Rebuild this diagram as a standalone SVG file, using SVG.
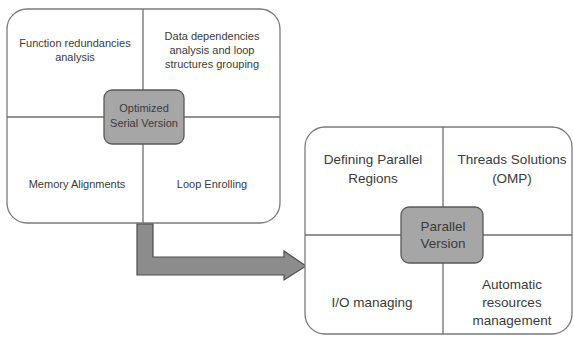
<svg xmlns="http://www.w3.org/2000/svg" width="574" height="340" viewBox="0 0 574 340">
<style>
.frame{fill:#ffffff;stroke:#7a7a7a;stroke-width:1.3}
.div{stroke:#6e6e6e;stroke-width:1.3;fill:none}
.core{fill:#a6a6a6;stroke:#5a5a5a;stroke-width:1.3}
.t{font-family:"Liberation Sans",Arial,sans-serif;fill:#3a3a3a;text-anchor:middle}
.s{font-size:11px}
.b{font-size:13.5px}
</style>
<rect width="574" height="340" fill="#ffffff"/>
<g id="serial">
<rect class="frame" x="7" y="9" width="273" height="214" rx="20"/>
<line class="div" x1="143" y1="9" x2="143" y2="223"/>
<line class="div" x1="7" y1="117" x2="280" y2="117"/>
<rect class="core" x="104" y="90" width="80" height="54" rx="8"/>
<text class="t s" x="144" y="112">Optimized</text>
<text class="t s" x="144" y="127">Serial Version</text>
<text class="t s" x="75" y="47">Function redundancies</text>
<text class="t s" x="75" y="61">analysis</text>
<text class="t s" x="212" y="40">Data dependencies</text>
<text class="t s" x="212" y="54">analysis and loop</text>
<text class="t s" x="212" y="68">structures grouping</text>
<text class="t s" x="77" y="188">Memory Alignments</text>
<text class="t s" x="212" y="188">Loop Enrolling</text>
</g>
<g id="connectors">
<path d="M137 224 H153 V257 H284 V251 L306 266 L284 280 V275 H137 Z" fill="#8c8c8c" stroke="#4d4d4d" stroke-width="1.2"/>
</g>
<g id="parallel">
<rect class="frame" x="305" y="127" width="267" height="207" rx="20"/>
<line class="div" x1="443" y1="127" x2="443" y2="334"/>
<line class="div" x1="305" y1="235" x2="572" y2="235"/>
<rect class="core" x="401" y="207" width="82" height="56" rx="8"/>
<text class="t b" x="443" y="231">Parallel</text>
<text class="t b" x="443" y="248">Version</text>
<text class="t b" x="373" y="164">Defining Parallel</text>
<text class="t b" x="373" y="183">Regions</text>
<text class="t b" x="512" y="164">Threads Solutions</text>
<text class="t b" x="512" y="183">(OMP)</text>
<text class="t b" x="372" y="307">I/O managing</text>
<text class="t b" x="512" y="289">Automatic</text>
<text class="t b" x="512" y="307">resources</text>
<text class="t b" x="512" y="325">management</text>
</g>
</svg>
